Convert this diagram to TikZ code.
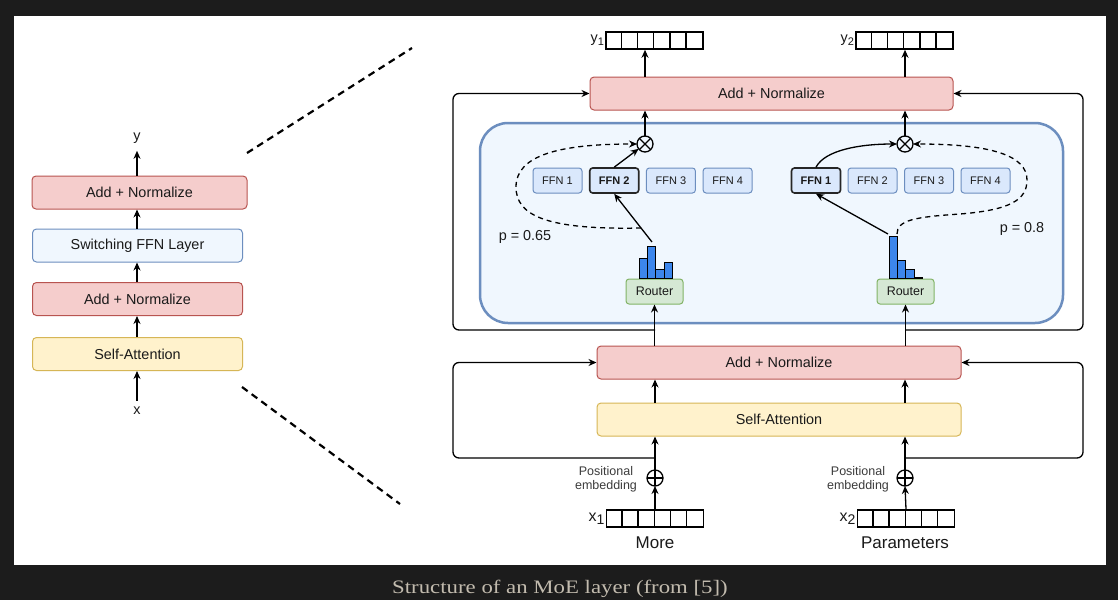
\documentclass[tikz,border=0pt]{standalone}
\usepackage{fontspec}
\setmainfont{Liberation Sans}
\newfontfamily\capfont[FakeStretch=1.2]{Liberation Serif}
\usetikzlibrary{arrows.meta}

\definecolor{bgdark}{HTML}{1C1C1C}
\definecolor{txt}{HTML}{1A1A1A}
\definecolor{pinkfill}{HTML}{F5CDCC}
\definecolor{pinkline}{HTML}{B85450}
\definecolor{yelfill}{HTML}{FFF2CC}
\definecolor{yelline}{HTML}{D6B656}
\definecolor{lightblue}{HTML}{F0F7FE}
\definecolor{blueline}{HTML}{6C8EBF}
\definecolor{ffnfill}{HTML}{DAE8FC}
\definecolor{selline}{HTML}{262626}
\definecolor{greenfill}{HTML}{D5E8D4}
\definecolor{greenline}{HTML}{82B366}
\definecolor{barblue}{HTML}{3C86EC}
\definecolor{captxt}{HTML}{C2BBAE}

\newcommand{\vlabel}[3]{#1\raisebox{-0.35ex}{\fontsize{#3}{#3}\selectfont #2}}

\begin{document}
\begin{tikzpicture}[x=1pt,y=-1pt,
		lbl/.style={font=\fontsize{14.4pt}{17pt}\selectfont, text=txt},
		box/.style={lbl, draw, rounded corners=4pt, line width=1pt, minimum height=33pt, inner sep=0pt},
		addnorm/.style={box, fill=pinkfill, draw=pinkline},
		attn/.style={box, fill=yelfill, draw=yelline},
		switchbox/.style={box, fill=lightblue, draw=blueline},
		ffn/.style={draw=blueline, fill=ffnfill, rounded corners=3pt, line width=1pt, minimum width=49pt, minimum height=25pt, inner sep=0pt, font=\fontsize{11pt}{13pt}\selectfont, text=txt},
		ffnsel/.style={ffn, draw=selline, line width=1.6pt, font=\fontsize{11pt}{13pt}\selectfont\bfseries},
		router/.style={draw=greenline, fill=greenfill, rounded corners=3pt, line width=1pt, minimum width=57pt, minimum height=25pt, inner sep=0pt, font=\fontsize{12.5pt}{14pt}\selectfont, text=txt},
		vec/.style={draw, line width=1.6pt, minimum width=97pt, minimum height=17pt, inner sep=0pt},
		op/.style={circle, draw, line width=1.3pt, minimum size=16pt, inner sep=0pt, outer sep=0pt},
		arr/.style={-{Stealth[length=8pt,width=7pt]}, line width=1.3pt},
		darr/.style={arr, dash pattern=on 5pt off 4pt},
		histbar/.style={fill=barblue, draw=black, line width=0.6pt},
		zoomline/.style={line width=2.2pt, dash pattern=on 7pt off 5pt}
	]
		\useasboundingbox (0,0) rectangle (1118,600);
		\fill[bgdark] (0,0) rectangle (1118,600);
		\fill[white] (14,16) rectangle (1106,565);

		% left: the whole block
		\node[addnorm, minimum width=215pt] (lan2) at (139.5,192.5) {Add + Normalize};
		\node[switchbox, minimum width=210pt] (lsw) at (137.5,245.5) {Switching FFN Layer};
		\node[addnorm, minimum width=210pt] (lan1) at (137.5,299) {Add + Normalize};
		\node[attn, minimum width=210pt] (lsa) at (137.5,354) {Self-Attention};
		\node[lbl] (yout) at (137,138) {y};
		\node[lbl] (xin) at (137,411) {x};

		\draw[arr, shorten >=4pt] (lan2.north -| yout) -- (yout);
		\draw[arr] (lsw.north -| yout) -- (lan2.south -| yout);
		\draw[arr] (lan1.north -| yout) -- (lsw.south -| yout);
		\draw[arr] (lsa.north -| yout) -- (lan1.south -| yout);
		\draw[arr, shorten <=3pt] (xin) -- (lsa.south -| xin);

		% zoom lines
		\coordinate (z1) at (247,153); \coordinate (z2) at (412,48);
		\coordinate (z3) at (242,387); \coordinate (z4) at (400,504);
		\draw[zoomline] (z1) -- (z2);
		\draw[zoomline] (z3) -- (z4);

		% right: MoE layer
		\node[draw=blueline, fill=lightblue, line width=2.5pt, rounded corners=28pt, minimum width=583pt, minimum height=200pt] (moe) at (771.5,223) {};

		\node[addnorm, minimum width=363pt] (tan) at (771.5,93.5) {Add + Normalize};
		\node[addnorm, minimum width=364pt] (man) at (779,362.5) {Add + Normalize};
		\node[attn, minimum width=364pt] (msa) at (779,419.5) {Self-Attention};

		\node[ffn] (fa1) at (557.5,180.5) {FFN 1};
		\node[ffnsel] (fa2) at (614.2,180.5) {FFN 2};
		\node[ffn] (fa3) at (670.9,180.5) {FFN 3};
		\node[ffn] (fa4) at (727.6,180.5) {FFN 4};
		\node[ffnsel] (fb1) at (816,180.5) {FFN 1};
		\node[ffn] (fb2) at (872.5,180.5) {FFN 2};
		\node[ffn] (fb3) at (929,180.5) {FFN 3};
		\node[ffn] (fb4) at (985.5,180.5) {FFN 4};

		\node[router] (ra) at (654.5,291.5) {Router};
		\node[router] (rb) at (905.5,291.5) {Router};

		% histograms
		\foreach \i/\t in {0/258,1/246,2/269,3/262}
			\draw[histbar] (639+\i*8.3,278) rectangle (647.3+\i*8.3,\t);
		\foreach \i/\t in {0/236,1/260,2/269,3/277}
			\draw[histbar] (889+\i*8.3,278) rectangle (897.3+\i*8.3,\t);
		\coordinate (ha) at (652,242);
		\coordinate (hb) at (888,234);
		\coordinate (da) at (641,228);
		\coordinate (db) at (897,234);

		\node[op] (ma) at (645,144) {};
		\node[op] (mb) at (905,144) {};
		\draw[line width=1.1pt] (ma.north west) -- (ma.south east) (ma.north east) -- (ma.south west);
		\draw[line width=1.1pt] (mb.north west) -- (mb.south east) (mb.north east) -- (mb.south west);

		\node[op] (pa) at (655,478) {};
		\node[op] (pb) at (905,478) {};
		\draw[line width=1.1pt] (pa.north) -- (pa.south) (pa.west) -- (pa.east);
		\draw[line width=1.1pt] (pb.north) -- (pb.south) (pb.west) -- (pb.east);

		\node[vec] (y1vec) at (654.5,40.5) {};
		\node[vec] (y2vec) at (904.5,40.5) {};
		\node[vec] (x1vec) at (655,518.5) {};
		\node[vec] (x2vec) at (906,518.5) {};
		\foreach \v in {y1vec,y2vec,x1vec,x2vec}
			\foreach \k in {1,...,5}
				\draw[line width=1.4pt] ([xshift=\k*16.17pt]\v.south west) -- ([xshift=\k*16.17pt]\v.north west);

		\node[lbl, anchor=east, inner sep=1pt] (y1) at (y1vec.west) {\vlabel{y}{1}{11pt}};
		\node[lbl, anchor=east, inner sep=1pt] (y2) at (y2vec.west) {\vlabel{y}{2}{11pt}};
		\node[font=\fontsize{16pt}{18pt}\selectfont, text=txt, anchor=east, inner sep=1pt] (x1) at (x1vec.west) {\vlabel{x}{1}{14pt}};
		\node[font=\fontsize{16pt}{18pt}\selectfont, text=txt, anchor=east, inner sep=1pt] (x2) at (x2vec.west) {\vlabel{x}{2}{14pt}};
		\node[font=\fontsize{17pt}{20pt}\selectfont, text=txt] (more) at (655,543) {More};
		\node[font=\fontsize{17pt}{20pt}\selectfont, text=txt] (params) at (905,543) {Parameters};
		\node[font=\fontsize{12.5pt}{14pt}\selectfont, text=txt!85, align=center] (pea) at (606,479) {Positional\\embedding};
		\node[font=\fontsize{12.5pt}{14pt}\selectfont, text=txt!85, align=center] (peb) at (858,479) {Positional\\embedding};
		\node[lbl] (pla) at (525,237) {p = 0.65};
		\node[lbl] (plb) at (1022,229) {p = 0.8};

		% main flow
		\draw[arr] (x1vec.north) -- (pa.south);
		\draw[arr] (x2vec.north) -- (pb.south);
		\draw[arr] (pa.north) -- (msa.south -| pa);
		\draw[arr] (pb.north) -- (msa.south -| pb);
		\draw[arr] (msa.north -| pa) -- (man.south -| pa);
		\draw[arr] (msa.north -| pb) -- (man.south -| pb);
		\draw[arr] (man.north -| ra) -- (ra.south);
		\draw[arr] (man.north -| rb) -- (rb.south);
		\draw[arr] (ma.north) -- (tan.south -| ma);
		\draw[arr] (mb.north) -- (tan.south -| mb);
		\draw[arr] (tan.north -| ma) -- (y1vec.south -| ma);
		\draw[arr] (tan.north -| mb) -- (y2vec.south -| mb);

		% residual loops
		\coordinate (ja) at (655,458); \coordinate (jb) at (905,458);
		\coordinate (ka) at (655,330); \coordinate (kb) at (905,330);
		\coordinate (lx) at (453,400); \coordinate (rx) at (1083,400);
		\coordinate (lt) at (453,200); \coordinate (rt) at (1083,200);
		\draw[arr, rounded corners=6pt] (ja) -| (lx) |- (man.west);
		\draw[arr, rounded corners=6pt] (jb) -| (rx) |- (man.east);
		\draw[arr, rounded corners=6pt] (ka) -| (lt) |- (tan.west);
		\draw[arr, rounded corners=6pt] (kb) -| (rt) |- (tan.east);

		% routing
		\draw[arr] (ha) -- (fa2.south);
		\draw[arr] (fa2.north) -- (ma);
		\draw[darr] (da) .. controls (545,230) and (516,215) .. (516,187)
			.. controls (516,155) and (560,144) .. (ma.west);
		\draw[arr] (hb) -- (fb1.south);
		\draw[arr] (fb1.north) .. controls (825,150) and (860,144) .. (mb.west);
		\draw[darr] (db) .. controls (897,220) and (915,217) .. (960,214)
			.. controls (1010,210) and (1027,200) .. (1027,180)
			.. controls (1027,155) and (990,144) .. (mb.east);

		\node[font=\capfont\fontsize{19pt}{22pt}\selectfont, text=captxt] (cap) at (560,589) {Structure of an MoE layer (from [5])};
	\end{tikzpicture}
\end{document}
